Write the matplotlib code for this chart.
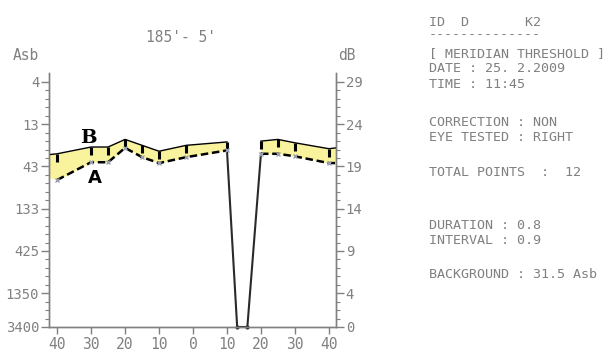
#! /usr/bin/env python3

import matplotlib.pyplot as plt
from matplotlib.path import Path
import numpy as np

# meridian 185' - 5', eccentricity in degrees (left side negative)
left_x  = [-42.4, -40, -30, -25, -20, -15, -10, -2, 10]
left_b  = [20.4, 20.5, 21.3, 21.3, 22.2, 21.5, 20.8, 21.5, 21.9]
left_a  = [17.7, 17.4, 19.5, 19.5, 21.2, 20.1, 19.4, 20.1, 20.9]

right_x = [20, 25, 30, 40, 42.1]
right_b = [22.0, 22.2, 21.8, 21.1, 21.2]
right_a = [20.5, 20.5, 20.2, 19.4, 19.4]

# blind spot
blind_x  = [10, 13, 16, 20]
blind_db = [20.9, 0, 0, 20.5]

db_ticks   = [29, 24, 19, 14, 9, 4, 0]
asb_labels = ['4', '13', '43', '133', '425', '1350', '3400']
x_ticks    = [-40, -30, -20, -10, 0, 10, 20, 30, 40]

info_lines = [
    ("ID  D       K2", 22),
    ("-" * 14, 35),
    ("[ MERIDIAN THRESHOLD ]", 54),
    ("DATE : 25. 2.2009", 69),
    ("TIME : 11:45", 84),
    ("CORRECTION : NON", 122),
    ("EYE TESTED : RIGHT", 138),
    ("TOTAL POINTS  :  12", 173),
    ("DURATION : 0.8", 225),
    ("INTERVAL : 0.9", 240),
    ("BACKGROUND : 31.5 Asb", 275),
]

W, H = 612, 355
grey = '#808080'
yellow = '#f8f39c'
mono = 'DejaVu Sans Mono'

fig = plt.figure(figsize=(W / 100, H / 100), dpi=100)
ax = fig.add_axes([49 / W, 28 / H, 287 / W, 254 / H])

# yellow band between the two curves
ax.fill_between(left_x, left_a, left_b, color=yellow, lw=0, zorder=1)
ax.fill_between(right_x, right_a, right_b, color=yellow, lw=0, zorder=1)

# B curve, solid with threshold bars
bar = Path([(0, 0), (0, -1)])
ax.plot(left_x, left_b, color='black', lw=1, zorder=3)
ax.plot(right_x, right_b, color='black', lw=1, zorder=3)
ax.plot(left_x[1:], left_b[1:], ls='none', marker=bar, ms=12, mew=2.2,
        color='black', zorder=4)
ax.plot(right_x[:-1], right_b[:-1], ls='none', marker=bar, ms=12, mew=2.2,
        color='black', zorder=4)

# A curve, dashed
ax.plot(left_x[1:], left_a[1:], color='black', lw=1.8, dashes=(3, 1.5), zorder=3)
ax.plot(right_x, right_a, color='black', lw=1.8, dashes=(3, 1.5), zorder=3)
ax.plot(left_x[1:], left_a[1:], ls='none', marker='x', ms=3.5, mew=1,
        color='#9aa0b0', zorder=5)
ax.plot(right_x[:-1], right_a[:-1], ls='none', marker='x', ms=3.5, mew=1,
        color='#9aa0b0', zorder=5)

# blind spot drop
ax.plot(blind_x, blind_db, color='#2a2a2a', lw=1.5, zorder=2,
        marker='o', ms=2, markevery=[1, 2], clip_on=False)

ax.set_xlim(-42.4, 42.1)
ax.set_ylim(0, 30.06)

ax.set_xticks(x_ticks)
ax.set_xticklabels([str(abs(t)) for t in x_ticks], family=mono, fontsize=10.5)
ax.set_yticks(db_ticks)
ax.set_yticklabels(asb_labels, family=mono, fontsize=10)
ax.set_yticks(np.arange(0, 30, 1), minor=True)

ax2 = ax.twinx()
ax2.set_ylim(ax.get_ylim())
ax2.set_yticks(db_ticks)
ax2.set_yticklabels([str(t) for t in db_ticks], family=mono, fontsize=10)
ax2.set_yticks(np.arange(0, 30, 1), minor=True)

for a in (ax, ax2):
    a.spines['top'].set_visible(False)
    for s in ('left', 'right', 'bottom'):
        a.spines[s].set_color(grey)
        a.spines[s].set_linewidth(1)
    a.tick_params(which='major', length=6, width=1, color=grey,
                  labelcolor=grey, pad=1)
    a.tick_params(which='minor', length=3, width=0.8, color=grey)
ax.tick_params(axis='x', length=5, pad=2)
ax.spines['bottom'].set_linestyle((0, (2, 1)))

# curve labels
ax.text(-30.9, 22.4, 'B', fontsize=14, fontweight='bold', family='DejaVu Serif',
        ha='center', va='center', zorder=6)
ax.text(-28.8, 17.6, 'A', fontsize=13, fontweight='bold', family='DejaVu Sans',
        ha='center', va='center', zorder=6)

fig.text(181 / W, 1 - 37 / H, "185'- 5'", family=mono, fontsize=10.5,
         color=grey, ha='center', va='center')
fig.text(26 / W, 1 - 55 / H, "Asb", family=mono, fontsize=10.5,
         color=grey, ha='center', va='center')
fig.text(347 / W, 1 - 56 / H, "dB", family=mono, fontsize=10.5,
         color=grey, ha='center', va='center')

for txt, yp in info_lines:
    fig.text(429 / W, 1 - yp / H, txt, family=mono, fontsize=9.6,
             color=grey, ha='left', va='center')

fig.savefig('out.png', dpi=100)
